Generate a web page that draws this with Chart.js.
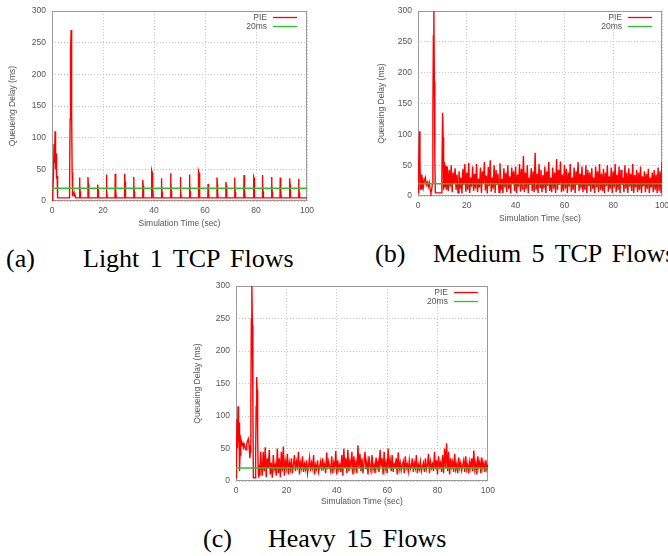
<!DOCTYPE html>
<html>
<head>
<meta charset="utf-8">
<script src="https://cdn.jsdelivr.net/npm/chart.js@4/dist/chart.umd.min.js"></script>
<style>
  body { margin: 0; background: #fff; width: 668px; height: 556px; position: relative; overflow: hidden; }
  canvas { position: absolute; }
  .leg { position: absolute; font-family: "Liberation Serif", "Times New Roman", serif; font-size: 26px; line-height: 1; color: #000; white-space: nowrap; word-spacing: 4px; }
</style>
</head>
<body>
<canvas id="graficoA" width="320" height="229" style="left:0;top:0"></canvas>
<canvas id="graficoB" width="340" height="224" style="left:340px;top:0"></canvas>
<canvas id="graficoC" width="320" height="232" style="left:180px;top:275px"></canvas>

<div class="leg" style="left:6px;top:246px">(a)</div>
<div class="leg" style="left:83px;top:246px">Light 1 TCP Flows</div>
<div class="leg" style="left:375px;top:241px">(b)</div>
<div class="leg" style="left:433px;top:241px">Medium 5 TCP Flows</div>
<div class="leg" style="left:203px;top:526px">(c)</div>
<div class="leg" style="left:268px;top:526px">Heavy 15 Flows</div>

<script>
// eixos
const ticksX = [0, 20, 40, 60, 80, 100];
const ticksY = [0, 50, 100, 150, 200, 250, 300];

// linha de referencia 20ms
const temposMeta = [0, 100];
const atrasosMeta = [20, 20];

// (a) Light 1 TCP Flows
const temposA = [
  0, 0.3, 0.6, 0.8, 1.0, 1.2, 1.4, 1.6, 1.8, 2.0, 2.2, 6.7, 6.9, 7.1, 7.3, 7.5, 7.7, 7.9, 8.1, 8.4, 8.7, 9.0, 9.3,
  10.7, 10.8, 10.95, 11.05, 11.2,
  14.0, 14.1, 14.25, 14.35, 14.5,
  17.8, 17.9, 18.05, 18.15, 18.3,
  21.2, 21.3, 21.45, 21.55, 21.7,
  24.7, 24.8, 24.95, 25.05, 25.2,
  28.4, 28.5, 28.65, 28.75, 28.9,
  31.9, 32.0, 32.15, 32.25, 32.4,
  35.5, 35.6, 35.75, 35.85, 36.0,
  38.9, 39.0, 39.2, 39.35, 39.5, 39.7,
  42.8, 42.9, 43.05, 43.15, 43.3,
  46.4, 46.5, 46.65, 46.75, 46.9,
  50.2, 50.3, 50.45, 50.55, 50.7,
  53.8, 53.9, 54.05, 54.15, 54.3,
  57.3, 57.4, 57.5, 57.65, 57.8, 58.0,
  61.1, 61.2, 61.35, 61.45, 61.6,
  64.6, 64.7, 64.85, 64.95, 65.1,
  68.1, 68.2, 68.35, 68.45, 68.6,
  71.5, 71.6, 71.75, 71.85, 72.0,
  75.2, 75.3, 75.45, 75.55, 75.7,
  79.0, 79.1, 79.25, 79.35, 79.5,
  82.4, 82.5, 82.65, 82.75, 82.9,
  86.0, 86.1, 86.25, 86.35, 86.5,
  89.4, 89.5, 89.65, 89.75, 89.9,
  93.1, 93.2, 93.35, 93.45, 93.6,
  96.6, 96.7, 96.85, 96.95, 97.1,
  100
];
const atrasosA = [
  0, 10, 45, 90, 60, 110, 50, 75, 35, 40, 5, 5, 30, 130, 240, 270, 140, 45, 10, 12, 8, 10, 5,
  5, 37, 25, 15, 5,
  5, 38, 26, 14, 5,
  5, 26, 18, 12, 5,
  5, 42, 30, 15, 5,
  5, 43, 30, 16, 5,
  5, 43, 30, 15, 5,
  5, 38, 27, 14, 5,
  5, 33, 24, 13, 5,
  5, 30, 48, 44, 20, 5,
  5, 36, 26, 14, 5,
  5, 44, 32, 16, 5,
  5, 38, 28, 14, 5,
  5, 42, 30, 15, 5,
  5, 35, 47, 44, 18, 5,
  5, 27, 24, 12, 5,
  5, 37, 27, 14, 5,
  5, 30, 24, 12, 5,
  5, 37, 26, 14, 5,
  5, 41, 38, 16, 5,
  5, 38, 36, 15, 5,
  5, 41, 30, 15, 5,
  5, 38, 28, 14, 5,
  5, 37, 27, 14, 5,
  5, 36, 26, 14, 5,
  5, 35, 25, 13, 5,
  5
];

// (b) Medium 5 TCP Flows: partida + regime a cada 0.4 s desde 12 s
const temposInicioB = [0, 0.3, 0.6, 0.8, 1.0, 1.3, 1.6, 1.9, 2.2, 2.6, 3.0, 3.4, 3.8, 4.2, 4.6, 5.0, 5.3, 5.6, 5.9, 6.1, 6.3, 6.5, 6.7, 6.9, 7.1, 9.6, 9.8, 10.1, 10.3, 10.5, 10.8, 11.1, 11.4, 11.7];
const atrasosInicioB = [5, 55, 105, 55, 10, 35, 10, 30, 15, 25, 30, 18, 22, 15, 22, 10, 5, 10, 20, 130, 260, 300, 185, 60, 5, 5, 40, 135, 95, 10, 55, 15, 50, 10];
const inicioRegimeB = 12;
const passoB = 0.4;
const atrasosRegimeB = [
  48, 8, 42, 15, 50, 6, 38, 20, 45, 10,
  35, 5, 40, 12, 30, 4, 44, 18, 52, 7,
  38, 10, 54, 5, 30, 15, 48, 8, 36, 12,
  52, 6, 28, 14, 46, 5, 40, 20, 55, 9,
  33, 4, 47, 16, 58, 7, 30, 12, 50, 5,
  42, 18, 36, 6, 53, 10, 28, 5, 45, 14,
  38, 6, 50, 12, 32, 4, 46, 20, 40, 8,
  48, 5, 35, 15, 52, 7, 44, 10, 65, 6,
  38, 12, 50, 5, 30, 18, 45, 8, 40, 6,
  70, 10, 36, 5, 52, 14, 42, 6, 34, 12,
  48, 5, 40, 16, 55, 8, 30, 6, 46, 12,
  38, 5, 60, 10, 42, 18, 56, 6, 35, 8,
  50, 12, 44, 5, 38, 15, 52, 7, 30, 10,
  46, 5, 40, 18, 55, 8, 36, 12, 48, 6,
  34, 10, 50, 5, 42, 16, 38, 7, 45, 12,
  30, 5, 48, 14, 40, 6, 52, 10, 36, 8,
  44, 5, 38, 16, 50, 7, 32, 12, 46, 5,
  40, 14, 52, 6, 35, 10, 48, 5, 42, 18,
  30, 6, 50, 12, 38, 5, 45, 15, 36, 8,
  52, 5, 34, 14, 42, 6, 38, 10, 48, 5,
  32, 16, 40, 6, 36, 12, 44, 5, 30, 14,
  38, 6, 42, 10, 35, 5, 46, 8, 40, 5,
  55
];

// (c) Heavy 15 Flows: partida + regime a cada 0.4 s desde 10 s
const temposInicioC = [0, 0.2, 0.4, 0.6, 0.8, 1.0, 1.2, 1.4, 1.6, 1.9, 2.2, 2.5, 2.8, 3.1, 3.4, 3.7, 4.0, 4.3, 4.6, 4.9, 5.2, 5.5, 5.7, 5.9, 6.1, 6.3, 6.5, 6.7, 6.9, 7.6, 7.8, 8.0, 8.2, 8.4, 8.6, 8.8, 9.0, 9.2, 9.5, 9.8];
const atrasosInicioC = [5, 40, 95, 50, 115, 60, 90, 15, 40, 65, 60, 55, 58, 52, 55, 50, 48, 58, 62, 65, 55, 35, 45, 120, 250, 300, 240, 120, 5, 5, 40, 115, 160, 140, 68, 20, 5, 25, 8, 45];
const inicioRegimeC = 10;
const passoC = 0.4;
const atrasosRegimeC = [
  30, 8, 45, 15, 52, 6, 35, 20, 48, 10,
  28, 5, 40, 18, 25, 8, 50, 12, 35, 6,
  45, 15, 53, 8, 30, 20, 42, 10, 28, 18,
  35, 12, 25, 40, 15, 30, 22, 45, 10, 28,
  20, 38, 14, 26, 18, 32, 12, 24, 36, 15,
  28, 20, 40, 10, 25, 18, 32, 14, 22, 30,
  16, 35, 20, 26, 12, 44, 18, 30, 22, 15,
  38, 12, 28, 20, 46, 10, 32, 18, 25, 14,
  40, 8, 50, 20, 35, 12, 48, 15, 30, 22,
  45, 10, 38, 18, 28, 12, 55, 20, 42, 15,
  35, 12, 28, 45, 18, 30, 10, 38, 22, 15,
  40, 18, 25, 12, 36, 20, 30, 14, 48, 22,
  35, 10, 45, 18, 28, 12, 50, 20, 32, 15,
  40, 14, 26, 22, 35, 10, 44, 18, 28, 16,
  24, 30, 12, 38, 20, 26, 15, 32, 18, 22,
  35, 14, 28, 20, 40, 12, 25, 18, 30, 15,
  22, 28, 14, 35, 18, 24, 42, 12, 30, 20,
  26, 15, 45, 18, 32, 10, 38, 22, 28, 14,
  40, 12, 50, 20, 58, 15, 45, 10, 35, 22,
  30, 14, 42, 18, 26, 12, 36, 20, 28, 16,
  24, 32, 14, 38, 18, 26, 12, 30, 20, 35,
  15, 47, 18, 28, 10, 38, 22, 30, 12, 36,
  20, 28, 14, 32, 18, 25
];

const fonteEixo = { family: '"Liberation Sans", Arial, sans-serif', size: 8.5 };
const corTexto = '#555';

function temposRegulares(inicio, passo, n) {
  return Array.from({ length: n }, (_, i) => +(inicio + i * passo).toFixed(2));
}

function montarPontos(tempos, valores) {
  return tempos.map((t, i) => ({ x: t, y: valores[i] }));
}

// moldura completa do gráfico (estilo gnuplot)
const moldura = {
  id: 'moldura',
  beforeDatasetsDraw(chart) {
    const { ctx, chartArea: a } = chart;
    ctx.save();
    ctx.strokeStyle = '#9a9a9a';
    ctx.lineWidth = 1;
    ctx.strokeRect(Math.round(a.left) + 0.5, Math.round(a.top) + 0.5, Math.round(a.right - a.left) - 1, Math.round(a.bottom - a.top) - 1);
    ctx.restore();
  }
};

// legenda dentro do gráfico: texto à direita e amostra de linha
const legendaInterna = {
  id: 'legendaInterna',
  afterDatasetsDraw(chart) {
    const { ctx, chartArea: a } = chart;
    ctx.save();
    ctx.font = `${fonteEixo.size}px ${fonteEixo.family}`;
    ctx.fillStyle = corTexto;
    ctx.textAlign = 'right';
    ctx.textBaseline = 'middle';
    chart.data.datasets.forEach((ds, i) => {
      const y = Math.round(a.top + 6 + i * 9) + 0.5;
      ctx.fillText(ds.label, a.right - 40, y);
      ctx.strokeStyle = ds.borderColor;
      ctx.lineWidth = 1.3;
      ctx.beginPath();
      ctx.moveTo(a.right - 34, y);
      ctx.lineTo(a.right - 10, y);
      ctx.stroke();
    });
    ctx.restore();
  }
};

function criarGrafico(idCanvas, pontosPIE, m) {
  return new Chart(document.getElementById(idCanvas), {
    type: 'line',
    data: {
      datasets: [
        {
          label: 'PIE',
          data: pontosPIE,
          borderColor: '#ff0000',
          borderWidth: 1.4,
          pointRadius: 0,
          tension: 0,
          order: 1
        },
        {
          label: '20ms',
          data: montarPontos(temposMeta, atrasosMeta),
          borderColor: '#2cc02c',
          borderWidth: 1.5,
          pointRadius: 0,
          order: 0
        }
      ]
    },
    options: {
      responsive: false,
      animation: false,
      devicePixelRatio: 1,
      layout: { padding: { left: m.esquerda, top: m.topo, right: m.direita, bottom: 0 } },
      plugins: { legend: { display: false }, tooltip: { enabled: false } },
      scales: {
        x: {
          type: 'linear',
          min: 0,
          max: 100,
          afterBuildTicks: escala => { escala.ticks = ticksX.map(v => ({ value: v })); },
          afterFit: escala => { escala.height = m.alturaX; },
          ticks: { color: corTexto, font: fonteEixo, padding: 5, maxRotation: 0 },
          grid: { color: '#c4c4c4', drawTicks: false },
          border: { display: false, dash: [1, 2] },
          title: { display: true, text: 'Simulation Time (sec)', color: corTexto, font: fonteEixo, padding: 0 }
        },
        y: {
          min: 0,
          max: 300,
          afterBuildTicks: escala => { escala.ticks = ticksY.map(v => ({ value: v })); },
          afterFit: escala => { escala.width = m.larguraY; },
          ticks: { color: corTexto, font: fonteEixo, padding: 6 },
          grid: { color: '#c4c4c4', drawTicks: false },
          border: { display: false, dash: [1, 2] },
          title: { display: true, text: 'Queueing Delay (ms)', color: corTexto, font: fonteEixo, padding: 0 }
        }
      }
    },
    plugins: [moldura, legendaInterna]
  });
}

const pontosA = montarPontos(temposA, atrasosA);
const pontosB = montarPontos(
  temposInicioB.concat(temposRegulares(inicioRegimeB, passoB, atrasosRegimeB.length)),
  atrasosInicioB.concat(atrasosRegimeB)
);
const pontosC = montarPontos(
  temposInicioC.concat(temposRegulares(inicioRegimeC, passoC, atrasosRegimeC.length)),
  atrasosInicioC.concat(atrasosRegimeC)
);

criarGrafico('graficoA', pontosA, { esquerda: 8, topo: 5, direita: 13, larguraY: 44, alturaX: 28 });
criarGrafico('graficoB', pontosB, { esquerda: 37, topo: 9, direita: 18, larguraY: 41, alturaX: 28 });
criarGrafico('graficoC', pontosC, { esquerda: 13, topo: 10, direita: 8, larguraY: 43, alturaX: 26 });
</script>
</body>
</html>
